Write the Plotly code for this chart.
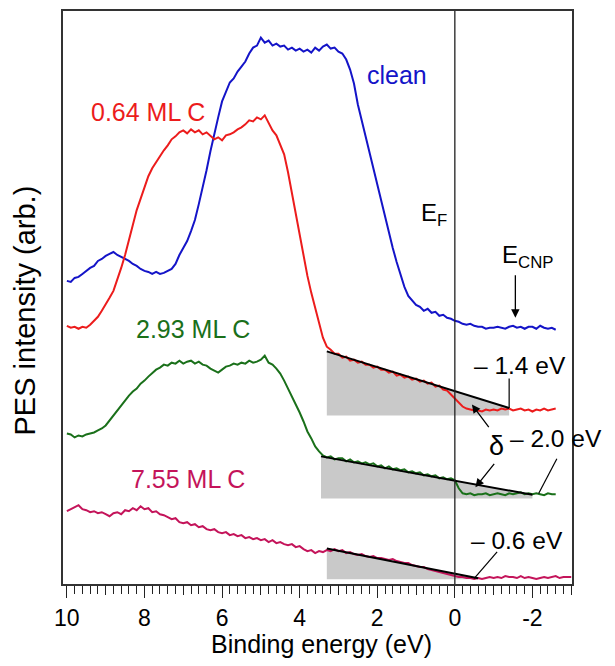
import plotly.graph_objects as go

# Binding energy grids (eV)
energy = [10.0, 9.9, 9.8, 9.7, 9.6, 9.5, 9.4, 9.3, 9.2, 9.1, 9.0, 8.9, 8.8, 8.7, 8.6, 8.5, 8.4, 8.3, 8.2, 8.1,
          8.0, 7.9, 7.8, 7.7, 7.6, 7.5, 7.4, 7.3, 7.2, 7.1, 7.0, 6.9, 6.8, 6.7, 6.6, 6.5, 6.4, 6.3, 6.2, 6.1,
          6.0, 5.9, 5.8, 5.7, 5.6, 5.5, 5.4, 5.3, 5.2, 5.1, 5.0, 4.9, 4.8, 4.7, 4.6, 4.5, 4.4, 4.3, 4.2, 4.1,
          4.0, 3.9, 3.8, 3.7, 3.6, 3.5, 3.4, 3.3, 3.2, 3.1, 3.0, 2.9, 2.8, 2.7, 2.6, 2.5, 2.4, 2.3, 2.2, 2.1,
          2.0, 1.9, 1.8, 1.7, 1.6, 1.5, 1.4, 1.3, 1.2, 1.1, 1.0, 0.9, 0.8, 0.7, 0.6, 0.5, 0.4, 0.3, 0.2, 0.1,
          0.0, -0.1, -0.2, -0.3, -0.4, -0.5, -0.6, -0.7, -0.8, -0.9, -1.0, -1.1, -1.2, -1.3, -1.4, -1.5, -1.6,
          -1.7, -1.8, -1.9, -2.0, -2.1, -2.2, -2.3, -2.4, -2.5, -2.6]
energy_long = energy + [-2.7, -2.8, -2.9, -3.0]

clean = [304, 303, 307, 308, 311, 314, 317, 319, 324, 326, 329, 331, 333, 330, 328, 326, 324, 321, 319, 316,
         314, 313, 311, 313, 311, 312, 314, 316, 321, 330, 337, 344, 354, 365, 381, 397, 415, 434, 452, 468,
         484, 493, 503, 507, 514, 519, 524, 532, 538, 540, 548, 543, 545, 540, 542, 539, 540, 536, 538, 535,
         537, 534, 536, 533, 538, 535, 539, 541, 537, 538, 534, 532, 526, 516, 502, 481, 465, 449, 432, 416,
         399, 384, 368, 353, 337, 323, 311, 298, 289, 284, 280, 278, 274, 276, 272, 273, 269, 270, 267, 266,
         264, 263, 261, 260, 261, 259, 258, 258, 256, 257, 257, 258, 257, 256, 258, 259, 257,
         258, 256, 258, 258, 256, 259, 257, 256, 257, 255]

ml064 = [259, 257, 258, 256, 258, 257, 260, 264, 268, 274, 280, 287, 294, 305, 317, 330, 344, 360, 375, 387,
         399, 409, 417, 423, 430, 435, 440, 446, 449, 453, 455, 452, 456, 453, 455, 451, 453, 449, 446, 448,
         445, 450, 451, 453, 456, 458, 461, 465, 464, 468, 466, 470, 462, 455, 450, 441, 431, 413, 392, 370,
         349, 328, 309, 292, 277, 262, 247, 238, 235, 231, 231, 227, 228, 224, 225, 222, 223, 220, 220, 217,
         218, 215, 215, 212, 213, 209, 210, 207, 208, 205, 206, 203, 204, 201, 202, 198, 199, 195, 194, 190,
         186, 182, 178, 176, 175, 174, 174, 173, 175, 174, 175, 174, 176, 175, 176, 174, 175,
         176, 174, 175, 173, 175, 174, 176, 174, 175, 176]

ml293 = [151, 150, 147, 149, 148, 150, 151, 152, 154, 156, 159, 164, 169, 174, 180, 184, 189, 193, 196, 201,
         204, 208, 212, 215, 217, 220, 219, 222, 221, 224, 221, 223, 224, 221, 223, 220, 219, 216, 214, 212,
         215, 218, 219, 221, 220, 222, 221, 224, 222, 223, 225, 229, 222, 220, 216, 211, 204, 196, 188, 181,
         172, 163, 153, 146, 138, 133, 129, 127, 128, 125, 126, 126, 123, 125, 122, 123, 121, 122, 120, 121,
         118, 119, 116, 118, 115, 116, 114, 115, 112, 113, 111, 112, 109, 110, 108, 109, 106, 107, 105, 106,
         104, 96, 91, 90, 91, 89, 90, 90, 91, 89, 90, 91, 90, 89, 91, 90, 91,
         92, 90, 91, 90, 91, 90, 89, 91, 90, 90]

ml755 = [73, 75, 77, 79, 75, 74, 72, 73, 71, 72, 70, 68, 71, 72, 70, 74, 73, 76, 74, 78,
         75, 76, 72, 73, 70, 69, 67, 65, 66, 62, 61, 62, 59, 60, 57, 58, 55, 54, 55, 52,
         51, 52, 49, 50, 48, 49, 46, 47, 45, 46, 44, 45, 42, 44, 41, 42, 40, 39, 40, 37,
         38, 35, 33, 34, 31, 33, 32, 34, 33, 35, 33, 34, 31, 32, 30, 29, 30, 28, 27, 28,
         26, 26, 25, 24, 25, 23, 22, 21, 21, 19, 18, 17, 17, 15, 14, 13, 12, 11, 10, 9,
         8, 7, 7, 6, 6, 5, 6, 5, 6, 7, 6, 7, 6, 8, 7, 7, 6,
         8, 6, 7, 6, 5, 6, 7, 6, 7, 8, 6, 7, 7, 7]

series_names = ["clean", "0.64 ML C", "2.93 ML C", "7.55 ML C"]
series_colors = ["#1414c8", "#ec1c1c", "#1a701a", "#c4145a"]

# Linear leading-edge fits (shaded) for the three C-covered spectra
edge_energy = [-1.4, -2.0, -0.6]          # extrapolated edge positions
fit_start_energy = [3.3, 3.45, 3.3]
fit_start_level = [233.3, 128.0, 35.7]
fit_end_level = [176.5, 89.5, 5.7]
fit_base_level = [169.0, 85.7, 4.7]
edge_labels = ["\u2013 1.4 eV", "\u2013 2.0 eV", "\u2013 0.6 eV"]

font = "Liberation Sans, Arial, sans-serif"
fig = go.Figure()

# shaded areas
for i in range(3):
    fig.add_trace(go.Scatter(
        x=[fit_start_energy[i], edge_energy[i], edge_energy[i], fit_start_energy[i], fit_start_energy[i]],
        y=[fit_start_level[i], fit_end_level[i], fit_base_level[i], fit_base_level[i], fit_start_level[i]],
        fill="toself", fillcolor="#c9c9c9", mode="none", hoverinfo="skip", showlegend=False))

# spectra
data = [(energy, clean), (energy, ml064), (energy, ml293), (energy_long, ml755)]
for (xx, yy), nm, col in zip(data, series_names, series_colors):
    fig.add_trace(go.Scatter(x=xx, y=yy, mode="lines", name=nm,
                             line=dict(color=col, width=2), showlegend=False))

# fit lines
for i in range(3):
    fig.add_trace(go.Scatter(x=[fit_start_energy[i], edge_energy[i]],
                             y=[fit_start_level[i], fit_end_level[i]],
                             mode="lines", line=dict(color="black", width=2),
                             hoverinfo="skip", showlegend=False))

# leader lines from edge labels
leader_x = [[-1.4, -1.4], [-2.63, -2.16], [-1.09, -0.5]]
leader_y = [[176.5, 206.0], [125.7, 90.7], [32.3, 5.7]]
for lx, ly in zip(leader_x, leader_y):
    fig.add_trace(go.Scatter(x=lx, y=ly, mode="lines", line=dict(color="black", width=1.2),
                             hoverinfo="skip", showlegend=False))

# Fermi level line
fig.add_shape(type="line", x0=0, x1=0, y0=0, y1=1, xref="x", yref="paper",
              line=dict(color="#222", width=1.3))

ann = []
# series labels
label_pos = [(1.49, 511), (7.91, 473), (6.75, 256), (6.88, 105)]
for (lx, ly), nm, col in zip(label_pos, series_names, series_colors):
    ann.append(dict(x=lx, y=ly, text=nm, showarrow=False, xanchor="center", yanchor="middle",
                    font=dict(size=25, color=col, family=font)))
# edge labels
edge_label_pos = [(-1.69, 219), (-2.62, 146), (-1.6, 44)]
for (lx, ly), t in zip(edge_label_pos, edge_labels):
    ann.append(dict(x=lx, y=ly, text=t, showarrow=False, xanchor="center", yanchor="middle",
                    font=dict(size=24.5, color="black", family=font)))
# E_F and E_CNP
ann.append(dict(x=0.53, y=371, text="E<sub>F</sub>", showarrow=False, xanchor="center", yanchor="middle",
                font=dict(size=24, color="black", family=font)))
ann.append(dict(x=-1.86, y=328, text="E<sub>CNP</sub>", showarrow=False, xanchor="center", yanchor="middle",
                font=dict(size=24, color="black", family=font)))
ann.append(dict(x=-1.56, y=267, text="", showarrow=True, ax=0, ay=-44,
                arrowhead=2, arrowsize=1.3, arrowwidth=1.3, arrowcolor="black"))
# delta
ann.append(dict(x=-1.08, y=138, text="\u03b4", showarrow=False, xanchor="center", yanchor="middle",
                font=dict(size=27, color="black", family=font)))
ann.append(dict(x=-0.44, y=180, text="", showarrow=True, ax=18, ay=24,
                arrowhead=2, arrowsize=1.3, arrowwidth=1.3, arrowcolor="black"))
ann.append(dict(x=-0.53, y=97, text="", showarrow=True, ax=20, ay=-25,
                arrowhead=2, arrowsize=1.3, arrowwidth=1.3, arrowcolor="black"))
# axis titles
ann.append(dict(x=0.507, y=-0.104, xref="paper", yref="paper", text="Binding energy (eV)",
                xanchor="center", yanchor="middle",
                showarrow=False, font=dict(size=25, color="black", family=font)))
ann.append(dict(x=-0.075, y=0.477, xref="paper", yref="paper", text="PES intensity (arb.)",
                xanchor="center", yanchor="middle",
                textangle=-90, showarrow=False, font=dict(size=29, color="black", family=font)))

tick_vals = [10, 8, 6, 4, 2, 0, -2]
tick_text = ["10", "8", "6", "4", "2", "0", "-2"]

# page body adds an 8 px offset; size the figure so the plot frame lands where the reference has it
fig.update_layout(
    width=607, height=658,
    margin=dict(l=55, r=43, t=1, b=82),
    paper_bgcolor="white", plot_bgcolor="white",
    annotations=ann,
    xaxis=dict(range=[10.1, -3.02], tickmode="array", tickvals=tick_vals, ticktext=tick_text,
               ticks="outside", ticklen=12, tickwidth=1.3, tickcolor="#222",
               minor=dict(tickmode="linear", tick0=0, dtick=0.2, ticks="outside", ticklen=8,
                          tickwidth=1.1, tickcolor="#222"),
               showline=True, linecolor="#333", linewidth=2, mirror=True,
               showgrid=False, zeroline=False,
               tickfont=dict(size=23, color="black", family=font)),
    xaxis2=dict(range=[10.1, -3.02], overlaying="x", anchor="y", side="bottom",
                tickmode="linear", tick0=1, dtick=2, ticks="outside", ticklen=10,
                tickwidth=1.2, tickcolor="#222", showticklabels=False,
                showline=False, showgrid=False, zeroline=False),
    yaxis=dict(range=[0, 574.7], showticklabels=False, ticks="", showgrid=False, zeroline=False,
               showline=True, linecolor="#333", linewidth=2, mirror=True),
    showlegend=False,
)
# invisible trace to activate xaxis2 (odd-integer intermediate ticks)
fig.add_trace(go.Scatter(x=[5], y=[-100], xaxis="x2", mode="markers", marker=dict(size=1, opacity=0),
                         hoverinfo="skip", showlegend=False))

fig.write_html("out.html")
